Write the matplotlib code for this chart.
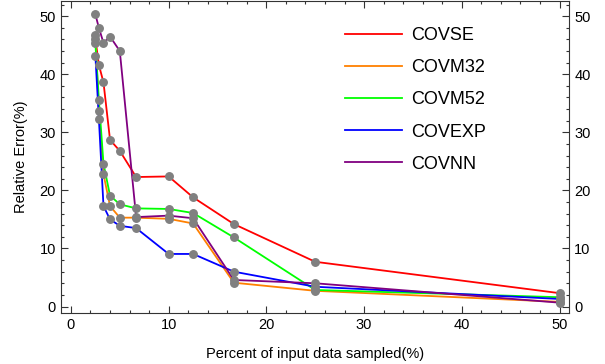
import matplotlib
matplotlib.use("Agg")
import matplotlib.pyplot as plt
from matplotlib.ticker import MultipleLocator

plt.rcParams['font.family'] = ['Liberation Sans', 'DejaVu Sans']

# Percent of input data sampled
sampled = [2.5, 2.86, 3.33, 4.0, 5.0, 6.67, 10.0, 12.5, 16.67, 25.0, 50.0]

# Relative error (%) for each covariance function
covse = [46.1, 41.6, 38.6, 28.7, 26.8, 22.3, 22.4, 18.8, 14.2, 7.7, 2.3]
covm32 = [46.7, 33.6, 22.8, 17.3, 15.3, 15.3, 15.1, 14.3, 4.1, 2.7, 0.8]
covm52 = [45.3, 35.6, 24.6, 19.1, 17.6, 16.9, 16.8, 16.1, 11.9, 2.85, 1.6]
covexp = [43.2, 32.3, 17.3, 15.0, 13.9, 13.5, 9.05, 9.05, 6.0, 3.4, 1.3]
covnn = [50.3, 48.0, 45.4, 46.5, 44.0, 15.4, 15.65, 15.2, 4.57, 4.0, 0.66]

series_names = ["COVSE", "COVM32", "COVM52", "COVEXP", "COVNN"]
series_values = [covse, covm32, covm52, covexp, covnn]
series_colors = ["#ff0000", "#ff8000", "#00ff00", "#0000ff", "#800080"]

fig = plt.figure(figsize=(6.05, 3.64), dpi=100)
ax = fig.add_axes([0.1003, 0.1393, 0.8407, 0.8577])

for name, vals, col in zip(series_names, series_values, series_colors):
    ax.plot(sampled, vals, color=col, lw=1.3, label=name, zorder=2)
for vals in series_values:
    ax.plot(sampled, vals, ls="none", marker="o", ms=5.4,
            mfc="#808080", mec="#808080", zorder=3)

ax.set_xlim(-1.05, 51.0)
ax.set_ylim(-1.17, 52.6)

ax.xaxis.set_major_locator(MultipleLocator(10))
ax.xaxis.set_minor_locator(MultipleLocator(2))
ax.yaxis.set_major_locator(MultipleLocator(10))
ax.yaxis.set_minor_locator(MultipleLocator(2))
ax.tick_params(which="both", direction="in", top=True, right=True,
               labelright=True, labelsize=10.5, width=0.8, color="#333333")
ax.tick_params(which="major", length=5)
ax.tick_params(which="minor", length=2.5)
for sp in ax.spines.values():
    sp.set_linewidth(0.8)
    sp.set_color("#333333")

ax.set_xlabel("Percent of input data sampled(%)", fontsize=10.5, labelpad=11)
ax.set_ylabel("Relative Error(%)", fontsize=10.5, labelpad=8)

ax.legend(loc="upper left", bbox_to_anchor=(0.544, 0.94), frameon=False,
          fontsize=13, handlelength=3.2, handletextpad=0.5,
          labelspacing=0.84, borderaxespad=0.0)

fig.savefig("out.png", dpi=100)
